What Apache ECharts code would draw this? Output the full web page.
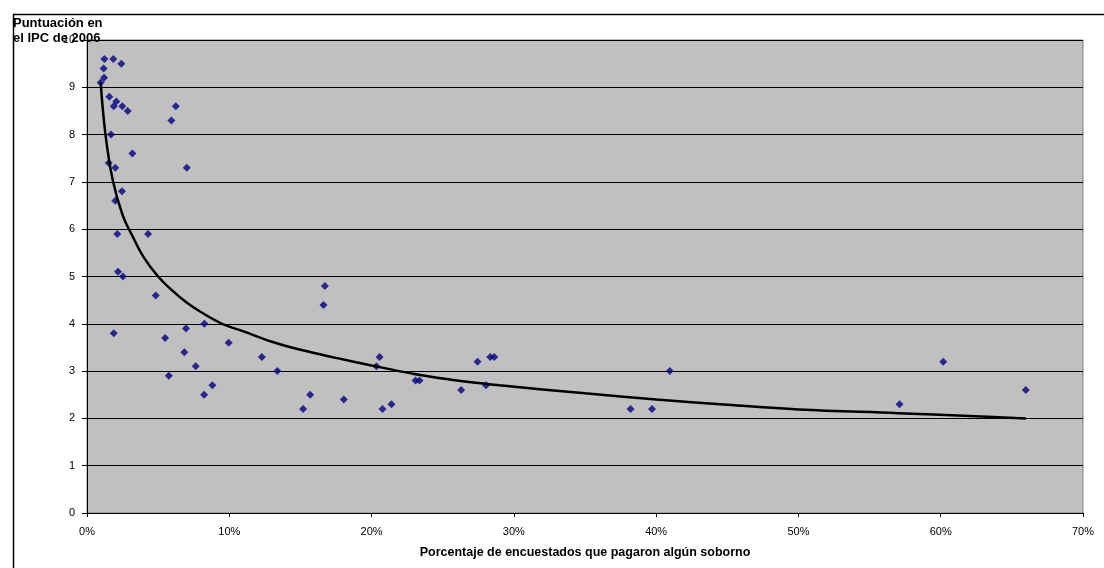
<!DOCTYPE html>
<html>
<head>
<meta charset="utf-8">
<script src="https://cdn.jsdelivr.net/npm/echarts@6/dist/echarts.min.js"></script>
<style>html,body{margin:0;padding:0;background:#fff;}#c{width:1104px;height:568px;}</style>
</head>
<body>
<div id="c"></div>
<script>
// Percentage of respondents who paid a bribe (%)
const bribeX = [1.22,1.85,2.41,1.17,1.20,0.96,1.57,2.06,1.88,2.48,2.86,6.24,5.93,1.69,3.19,1.53,1.99,7.01,2.46,1.99,2.13,4.29,2.18,2.53,4.83,1.88,6.96,8.25,5.49,9.96,6.84,7.64,5.75,8.81,8.23,16.72,16.62,12.29,13.38,15.68,15.19,18.05,20.56,20.34,20.77,21.40,23.09,23.37,26.30,27.45,28.34,28.62,28.04,38.20,39.71,40.96,57.11,60.18,65.98];
// CPI 2006 score
const cpiY = [9.6,9.6,9.5,9.4,9.2,9.1,8.8,8.7,8.6,8.6,8.5,8.6,8.3,8.0,7.6,7.4,7.3,7.3,6.8,6.6,5.9,5.9,5.1,5.0,4.6,3.8,3.9,4.0,3.7,3.6,3.4,3.1,2.9,2.7,2.5,4.8,4.4,3.3,3.0,2.5,2.2,2.4,3.3,3.1,2.2,2.3,2.8,2.8,2.6,3.2,3.3,3.3,2.7,2.2,2.2,3.0,2.3,3.2,2.6];
// Trend line
const trendX = [0.96,1.3,1.8,2.5,3.2,4.0,5.0,6.0,7.0,8.0,9.5,11,13,15,17.5,20,23,26,29,35,40,45,50,57,62,65.98];
const trendY = [9.1,8.0,7.05,6.3,5.85,5.4,5.0,4.7,4.45,4.25,4.0,3.84,3.62,3.45,3.28,3.12,2.94,2.8,2.7,2.53,2.4,2.29,2.19,2.11,2.05,2.0];
const xTicks = [0,10,20,30,40,50,60,70];
const yTitle = 'Puntuación en\nel IPC de 2006';
const xTitle = 'Porcentaje de encuestados que pagaron algún soborno';

const points = bribeX.map((x,i)=>[x,cpiY[i]]);
const trend = trendX.map((x,i)=>[x,trendY[i]]);
const font = '"Liberation Sans", Arial, sans-serif';

const chart = echarts.init(document.getElementById('c'), null, {renderer:'canvas'});
chart.setOption({
  animation:false,
  backgroundColor:'#ffffff',
  title:{text:yTitle,left:13,top:16,padding:0,textStyle:{fontFamily:font,fontSize:13,fontWeight:'bold',color:'#000',lineHeight:15}},
  graphic:[{type:'rect',left:11,top:12,shape:{x:0,y:0,width:1100,height:560},style:{fill:'none',stroke:'#000',lineWidth:1.5},silent:true,z:-1}],
  grid:{left:87,right:21,top:40,bottom:55,containLabel:false,outerBoundsMode:'none',show:true,backgroundColor:'#C0C0C0',borderColor:'#808080',borderWidth:1},
  xAxis:{type:'value',min:xTicks[0],max:xTicks[xTicks.length-1],interval:10,
    axisLine:{show:true,onZero:false,lineStyle:{color:'#000',width:1}},
    axisTick:{show:true,inside:false,length:4,lineStyle:{color:'#000'}},
    splitLine:{show:false},
    axisLabel:{formatter:'{value}%',margin:13,fontFamily:font,fontSize:11,color:'#000'},
    name:xTitle,nameLocation:'middle',nameGap:33,
    nameTextStyle:{fontFamily:font,fontSize:12.5,fontWeight:'bold',color:'#000'}},
  yAxis:{type:'value',min:0,max:10,interval:1,
    axisLine:{show:true,lineStyle:{color:'#000',width:1}},
    axisTick:{show:true,inside:false,length:5,lineStyle:{color:'#000'}},
    splitLine:{show:true,lineStyle:{color:'#000',width:1}},
    axisLabel:{margin:12,fontFamily:font,fontSize:11,color:'#000'}},
  series:[
    {type:'scatter',data:points,symbol:'diamond',symbolSize:8,itemStyle:{color:'#000080'},z:3},
    {type:'line',data:trend,smooth:0.4,showSymbol:false,symbol:'none',lineStyle:{color:'#000',width:2.5},z:4}
  ]
});
</script>
</body>
</html>
